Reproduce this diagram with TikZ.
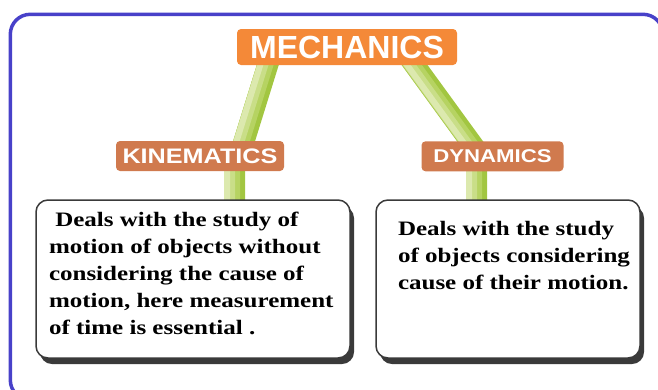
\documentclass[tikz,border=0pt]{standalone}
\usepackage{fontspec}
\setmainfont{Liberation Serif}
\newfontfamily\headfont{Liberation Sans}
\newfontfamily\tagfont[FakeStretch=1.2]{Liberation Sans}
\newfontfamily\notefont[FakeStretch=1.22]{Liberation Serif}
\usepackage{tikz}
\usetikzlibrary{calc,shadows,backgrounds}
\definecolor{frameblue}{HTML}{4841C9}
\definecolor{mechorange}{HTML}{F48938}
\definecolor{branchbrown}{HTML}{D07A4E}
\definecolor{stemdark}{HTML}{A2C641}
\definecolor{stemmid}{HTML}{B6D362}
\definecolor{stemsoft}{HTML}{C9DE88}
\definecolor{stemlight}{HTML}{DCE9AE}
\definecolor{boxline}{HTML}{3A3A3A}
\tikzset{
  title/.style ={rectangle, rounded corners=4pt, fill=mechorange, text=white,
                 minimum width=220pt, minimum height=36pt, inner sep=0pt,
                 font=\headfont\bfseries\fontsize{32}{32}\selectfont},
  branch/.style={rectangle, rounded corners=4pt, fill=branchbrown, text=white,
                 minimum height=30pt, inner sep=0pt},
  note/.style  ={rectangle, rounded corners=12pt, draw=boxline, line width=1.5pt,
                 fill=white, minimum height=158pt, inner sep=0pt,
                 general shadow={fill=boxline, shadow xshift=4pt, shadow yshift=-6pt},
                 font=\notefont\bfseries\fontsize{20.5}{27}\selectfont},
  % light on the left, deeper green on the right
  stem/.style  ={draw=stemdark, line width=21pt,
                 postaction={draw=stemmid, line width=16pt, transform canvas={xshift=-2.5pt}},
                 postaction={draw=stemsoft, line width=11pt, transform canvas={xshift=-5pt}},
                 postaction={draw=stemlight, line width=6pt, transform canvas={xshift=-7.5pt}}},
  frameline/.style={draw=frameblue, line width=3.5pt, rounded corners=20pt},
}
% width, left gap, top gap, lines
\newcommand{\notetext}[4]{\parbox[c][150pt][t]{#1}{\leftskip=#2\vspace*{#3}#4}}

\begin{document}
\begin{tikzpicture}[x=1pt,y=-1pt]
  \useasboundingbox (0,0) rectangle (658,389);
  \draw[frameline] (10.3,14.3) rectangle (663,400);

  \node[title] (mech) at (347,47) {MECHANICS};
  \node[branch, minimum width=168pt,
        font=\tagfont\bfseries\fontsize{21}{21}\selectfont] (kin) at (200,156) {KINEMATICS};
  \node[branch, minimum width=142pt,
        font=\tagfont\bfseries\fontsize{18.5}{18.5}\selectfont] (dyn) at (492.5,156.3) {DYNAMICS};

  \node[note, minimum width=314pt] (kinnote) at (193,279)
    {\notetext{314pt}{13pt}{8pt}{\ Deals with the study of\\
     motion of objects without\\
     considering the cause of\\
     motion, here measurement\\
     of time is essential .}};
  \node[note, minimum width=264pt] (dynnote) at (508,279)
    {\notetext{264pt}{22pt}{17pt}{Deals with the study\\
     of objects considering\\
     cause of their motion.}};

  \begin{scope}[on background layer]
    \draw[stem] ([xshift=34pt,yshift=10pt]mech.south west)
      -- ([xshift=42pt,yshift=-7pt]kin.north)
      -- ([xshift=34.5pt,yshift=3pt]kin.south)
      -- ([xshift=41.5pt,yshift=-5pt]kinnote.north);
    \draw[stem] ([xshift=-49.8pt,yshift=10pt]mech.south east)
      -- ([xshift=-17.5pt,yshift=-7pt]dyn.north)
      -- ([xshift=-15.8pt,yshift=3.6pt]dyn.south)
      -- ([xshift=-31.3pt,yshift=-5pt]dynnote.north);
  \end{scope}
\end{tikzpicture}
\end{document}
